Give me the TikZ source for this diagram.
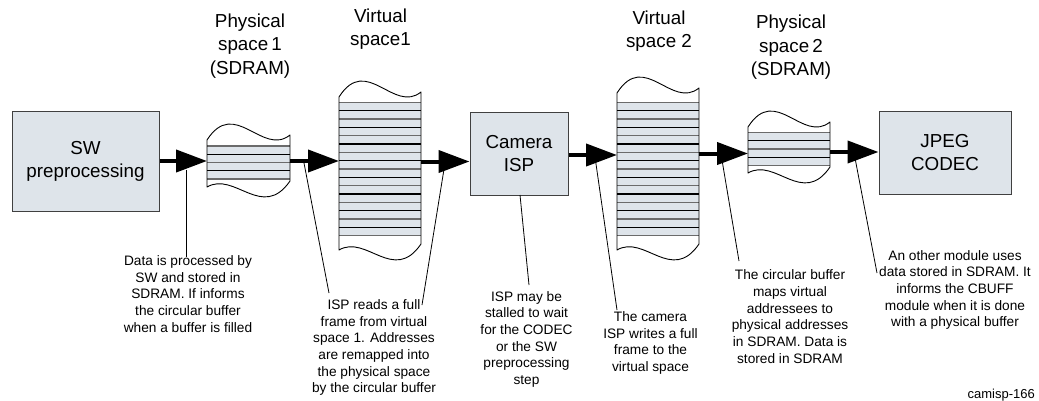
\documentclass[tikz,border=0pt]{standalone}
\usepackage{fontspec}
\setmainfont{Liberation Sans}
\usetikzlibrary{arrows.meta}
\definecolor{boxfill}{HTML}{DEE4EA}
\definecolor{linegray}{HTML}{6B6B6B}
\tikzset{
  flow/.style={line width=4pt,-{Triangle[length=31pt,width=22pt]}},
  callout/.style={line width=0.8pt},
  procbox/.style={draw=black!75, fill=boxfill, line width=1pt, inner sep=0pt, align=center,
    font=\fontsize{18.8}{23}\selectfont},
  titletext/.style={align=center, inner sep=0pt, font=\fontsize{18.8}{23.5}\selectfont},
  note/.style={align=center, inner sep=0pt, font=\fontsize{13.7}{16.7}\selectfont},
}
% #1 x0, #2 x1, #3 top wave left y, #4 bottom wave left y, #5 stripe top, #6 stripe bottom, #7 bands
\newcommand\tapestack[7]{%
  \pgfmathsetmacro\wa{#1+(#2-#1)/3}%
  \pgfmathsetmacro\wb{#1+2*(#2-#1)/3}%
  \pgfmathsetmacro\ta{#3-43}%
  \pgfmathsetmacro\tb{#3+17}%
  \pgfmathsetmacro\tr{#3-5}%
  \pgfmathsetmacro\ba{#4-16}%
  \pgfmathsetmacro\bb{#4+34}%
  \pgfmathsetmacro\br{#4-6}%
  \fill[boxfill] (#1,#5) rectangle (#2,#6);
  \foreach \i in {0,...,#7}{%
    \pgfmathsetmacro\yy{#5+(#6-#5)*\i/#7}%
    \pgfmathtruncatemacro\odd{mod(\i,2)}%
    \ifnum\odd=0 \def\lc{linegray}\else\def\lc{black}\fi
    \draw[\lc, line width=1.2pt] (#1,\yy) -- (#2,\yy);
  }
  \draw[line width=0.9pt, line join=round]
    (#1,#3) .. controls (\wa,\ta) and (\wb,\tb) .. (#2,\tr)
    -- (#2,\br) .. controls (\wb,\bb) and (\wa,\ba) .. (#1,#4) -- cycle;
}
\begin{document}
\begin{tikzpicture}[x=1pt,y=-1pt]
\useasboundingbox (0,0) rectangle (1039,400);
\fill[white] (0,0) rectangle (1039,400);

% stacks
\tapestack{207}{290}{140}{187}{146}{179}{4}
\tapestack{339}{421}{97}{250}{102.3}{235.7}{16}
\tapestack{617}{699}{93}{250}{102.3}{235.7}{16}
\tapestack{748}{830}{127}{173}{132.3}{165.7}{4}

\coordinate (p1in) at (207,161);
\coordinate (p1out) at (290,161);
\coordinate (v1in) at (339,161);
\coordinate (v1out) at (421,161.5);
\coordinate (v2in) at (617,155);
\coordinate (v2out) at (699,153.5);
\coordinate (p2in) at (748,153.5);
\coordinate (p2out) at (830,152);

% boxes
\node[procbox, minimum width=147pt, minimum height=100pt] (sw) at (85.5,161) {SW\\preprocessing};
\node[procbox, minimum width=98pt, minimum height=83pt] (cam) at (519,153.5) {Camera\\ISP};
\node[procbox, minimum width=132pt, minimum height=83pt] (jpeg) at (945,152.5) {JPEG\\CODEC};

% titles
\node[titletext] (t1) at (250,46) {Physical\\space\,1\\(SDRAM)};
\node[titletext] (t2) at (380.5,29) {Virtual\\space1};
\node[titletext] (t3) at (659,31) {Virtual\\space 2};
\node[titletext] (t4) at (791,47.5) {Physical\\space\,2\\(SDRAM)};

% flow arrows
\draw[flow] (sw.east |- p1in) -- (p1in);
\draw[flow] (p1out) -- (v1in);
\draw[flow] (v1out) -- (v1out -| cam.west);
\draw[flow] (cam.east |- v2in) -- (v2in);
\draw[flow] (v2out) -- (p2in);
\draw[flow] (p2out) -- (p2out -| jpeg.west);

% notes
\node[note] (n1) at (188,294) {Data is processed by\\SW and stored in\\SDRAM. If informs\\the circular buffer\\when a buffer is filled};
\node[note] (n2) at (374,347.5) {ISP reads a full\\frame from virtual\\space 1. Addresses\\are remapped into\\the physical space\\by the circular buffer};
\node[note] (n3) at (526.5,339.2) {ISP may be\\stalled to wait\\for the CODEC\\or the SW\\preprocessing\\step};
\node[note] (n4) at (650.5,343) {The camera\\ISP writes a full\\frame to the\\virtual space};
\node[note] (n5) at (790,316.7) {The circular buffer\\maps virtual\\addressees to\\physical addresses\\in SDRAM. Data is\\stored in SDRAM};
\node[note] (n6) at (955,290) {An other module uses\\data stored in SDRAM. It\\informs the CBUFF\\module when it is done\\with a physical buffer};
\node[anchor=base east, inner sep=0pt, font=\fontsize{13}{15}\selectfont] (tag) at (1035,398.5) {camisp-166};

% callout lines
\coordinate (c1a) at (186,170);  \coordinate (c1b) at (186,257);
\coordinate (c2a) at (304,163);  \coordinate (c2b) at (329,293);
\coordinate (c3a) at (445,163);  \coordinate (c3b) at (422,305);
\coordinate (c4a) at (520,195);  \coordinate (c4b) at (529,285);
\coordinate (c5a) at (595,157);  \coordinate (c5b) at (617,310);
\coordinate (c6a) at (722,160);  \coordinate (c6b) at (739,261);
\coordinate (c7a) at (855,158);  \coordinate (c7b) at (877,273);
\draw[callout] (c1a) -- (c1b);
\draw[callout] (c2a) -- (c2b);
\draw[callout] (c3a) -- (c3b);
\draw[callout] (c4a) -- (c4b);
\draw[callout] (c5a) -- (c5b);
\draw[callout] (c6a) -- (c6b);
\draw[callout] (c7a) -- (c7b);
\end{tikzpicture}
\end{document}
